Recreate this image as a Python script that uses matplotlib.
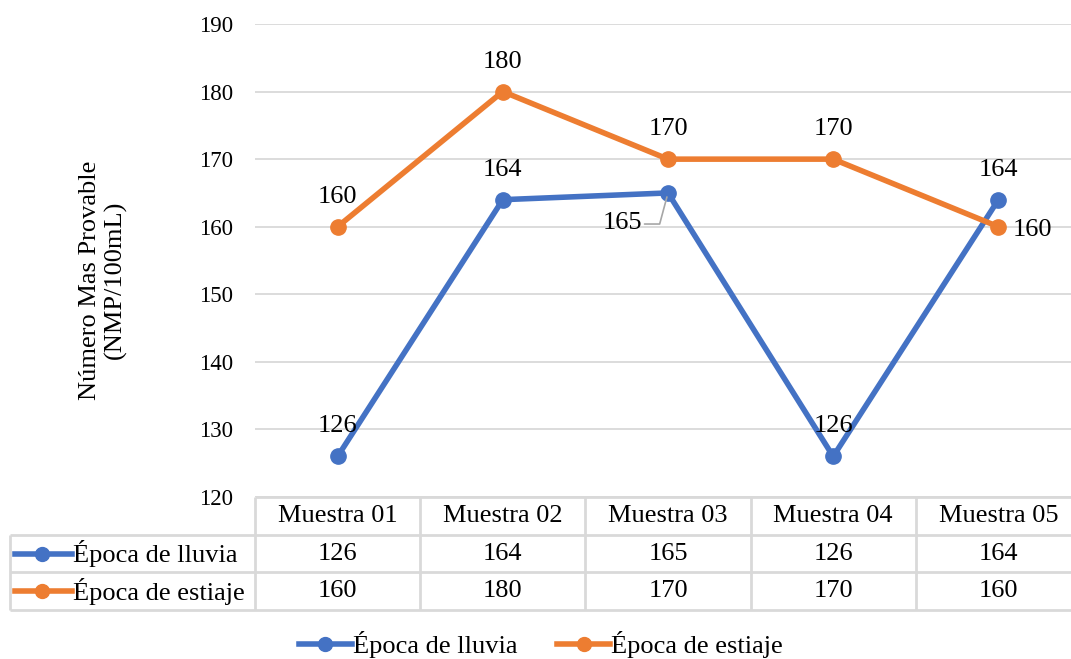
import numpy as np
import matplotlib
matplotlib.use("Agg")
import matplotlib.pyplot as plt
from matplotlib.lines import Line2D

plt.rcParams['font.family'] = ['Liberation Serif', 'DejaVu Serif']

# Data
muestras = ['Muestra 01', 'Muestra 02', 'Muestra 03', 'Muestra 04', 'Muestra 05']
lluvia = [126, 164, 165, 126, 164]
estiaje = [160, 180, 170, 170, 160]
series_names = ['Época de lluvia', 'Época de estiaje']
y_ticks = [120, 130, 140, 150, 160, 170, 180, 190]

BLUE = '#4472C4'
ORANGE = '#ED7D31'
GRID = '#d9d9d9'
FS = 19
W, H = 1071, 659

fig = plt.figure(figsize=(W / 100, H / 100), dpi=100)

# Plot area (pixel layout converted to figure fractions)
ax_l, ax_r, ax_t, ax_b = 255, 1081, 24, 497
ax = fig.add_axes([ax_l / W, 1 - ax_b / H, (ax_r - ax_l) / W, (ax_b - ax_t) / H])
x = np.arange(len(muestras))

ax.plot(x, lluvia, color=BLUE, lw=4, marker='o', ms=11, solid_capstyle='round', zorder=3)
ax.plot(x, estiaje, color=ORANGE, lw=4, marker='o', ms=11, solid_capstyle='round', zorder=4)

ax.set_xlim(-0.5, len(muestras) - 0.5)
ax.set_ylim(y_ticks[0], y_ticks[-1])
ax.set_yticks(y_ticks)
ax.set_xticks([])
ax.tick_params(axis='y', length=0, pad=16, labelsize=16.5)
for s in ax.spines.values():
    s.set_visible(False)
ax.grid(axis='y', color=GRID, lw=1.3)
ax.set_axisbelow(True)

lbl = dict(fontsize=FS, textcoords='offset pixels', ha='center', va='center')
# data labels, blue series
for i, v in enumerate(lluvia):
    if i == 2:
        ax.annotate(str(v), (x[i], v), xytext=(-46, -30), textcoords='offset pixels',
                    ha='center', va='center', fontsize=FS,
                    arrowprops=dict(arrowstyle='-', color='#a6a6a6', lw=1.2, relpos=(1, 0.45),
                                    shrinkA=0, shrinkB=3,
                                    connectionstyle='angle,angleA=0,angleB=75,rad=0'))
    else:
        ax.annotate(str(v), (x[i], v), xytext=(0, 30), **lbl)
# data labels, orange series
for i, v in enumerate(estiaje):
    if i == len(estiaje) - 1:
        ax.annotate(str(v), (x[i], v), xytext=(14, -3), fontsize=FS,
                    textcoords='offset pixels', ha='left', va='center')
    else:
        ax.annotate(str(v), (x[i], v), xytext=(0, 30), **lbl)

# Data table under the plot area
tb_l, tb_t, tb_b = 10, 497, 610
tax = fig.add_axes([tb_l / W, 1 - tb_b / H, (ax_r - tb_l) / W, (tb_b - tb_t) / H])
ppu = (ax_r - ax_l) / len(muestras)
x0 = -0.5 - (ax_l - tb_l) / ppu
tax.set_xlim(x0, len(muestras) - 0.5)
tax.set_ylim(3, 0)
tax.axis('off')

tl = dict(color=GRID, lw=2, solid_capstyle='butt', clip_on=False)
tax.plot([-0.5, len(muestras) - 0.5], [0, 0], **tl)
for r in (1, 2, 3):
    tax.plot([x0, len(muestras) - 0.5], [r, r], **tl)
tax.plot([x0, x0], [1, 3], **tl)
for c in range(len(muestras) + 1):
    tax.plot([c - 0.5, c - 0.5], [0, 3], **tl)

for i, m in enumerate(muestras):
    tax.text(i, 0.5, m, ha='center', va='center', fontsize=FS)
for r, (vals, col, name) in enumerate(zip([lluvia, estiaje], [BLUE, ORANGE], series_names), start=1):
    yc = r + 0.5
    tax.plot(x0 + np.array([5, 62]) / ppu, [yc, yc], color=col, lw=4, clip_on=False)
    tax.plot([x0 + 32 / ppu], [yc], 'o', color=col, ms=10, clip_on=False)
    tax.text(x0 + 63 / ppu, yc, name, ha='left', va='center', fontsize=FS)
    for i, v in enumerate(vals):
        tax.text(i, yc, str(v), ha='center', va='center', fontsize=FS)

# Axis title
fig.text(103 / W, 1 - 280 / H, 'Número Mas Provable\n(NMP/100mL)', rotation=90,
         ha='center', va='center', ma='center', fontsize=FS, linespacing=1.2)

# Legend
handles = [Line2D([], [], color=BLUE, lw=4, marker='o', ms=10),
           Line2D([], [], color=ORANGE, lw=4, marker='o', ms=10)]
fig.legend(handles, series_names, loc='center', bbox_to_anchor=(541 / W, 1 - 645 / H),
           ncol=2, frameon=False, fontsize=FS, handlelength=2.0, handletextpad=0.05,
           columnspacing=1.5, borderpad=0)

fig.savefig('out.png', dpi=100)
